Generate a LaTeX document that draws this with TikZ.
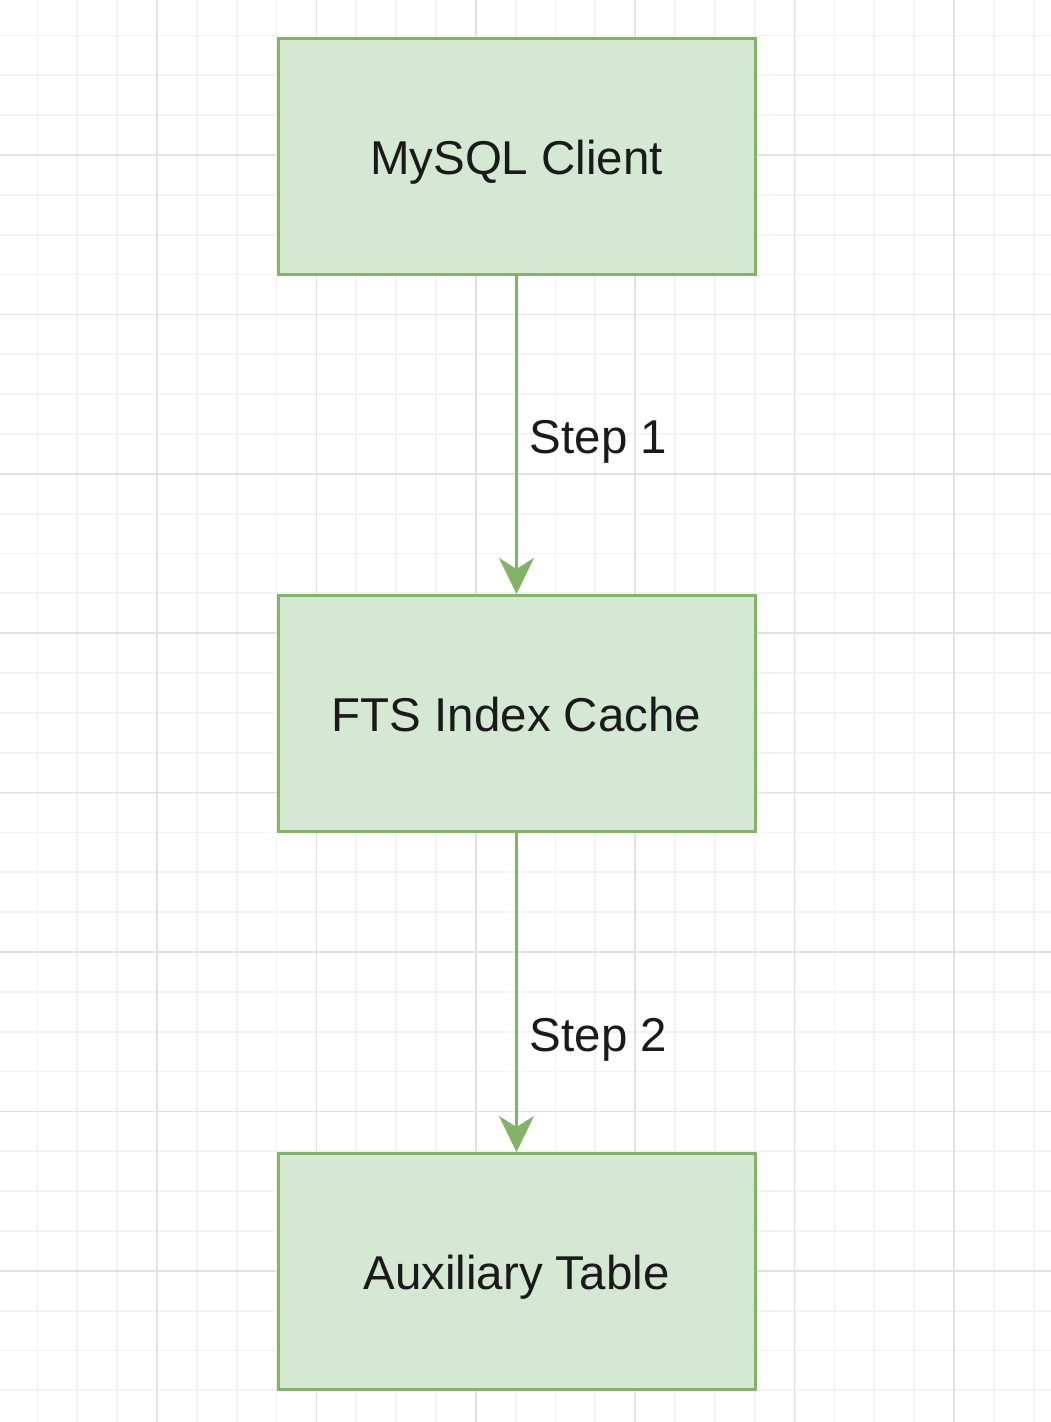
\documentclass[tikz,border=0pt]{standalone}
\usepackage{fontspec}
\setmainfont{Liberation Sans}
\usetikzlibrary{arrows.meta}
\definecolor{boxfill}{HTML}{D5E8D4}
\definecolor{boxline}{HTML}{82B366}
\definecolor{gridminor}{HTML}{F3F3F3}
\definecolor{gridmajor}{HTML}{E2E2E2}
\definecolor{txt}{HTML}{1A1A1A}
\tikzset{
  stepbox/.style={draw=boxline, fill=boxfill, line width=3pt, minimum width=477pt, minimum height=236pt, inner sep=0pt, text=txt, font=\fontsize{47.5}{57}\selectfont, text height=36.5pt, text depth=0pt},
  flow/.style={draw=boxline, line width=3pt, -{Stealth[length=36pt,width=35pt,inset=11pt]}},
  steplabel/.style={anchor=west, inner sep=0pt, text=txt, font=\fontsize{47.5}{57}\selectfont, text height=34.5pt, text depth=0pt}
}
\begin{document}
\begin{tikzpicture}[x=1pt,y=-1pt]
\useasboundingbox (0,0) rectangle (1051,1422);
\fill[white] (0,0) rectangle (1051,1422);
\foreach \i in {0,...,27} {
  \draw[gridminor, line width=1.8pt] ({-2.4+\i*39.85},0) -- ({-2.4+\i*39.85},1422);
}
\foreach \j in {0,...,36} {
  \draw[gridminor, line width=1.8pt] (0,{-4.4+\j*39.85}) -- (1051,{-4.4+\j*39.85});
}
\foreach \i in {0,...,7} {
  \draw[gridmajor, line width=1.6pt] ({-2.4+\i*159.4},0) -- ({-2.4+\i*159.4},1422);
}
\foreach \j in {0,...,9} {
  \draw[gridmajor, line width=1.6pt] (0,{-4.4+\j*159.4}) -- (1051,{-4.4+\j*159.4});
}
\node[stepbox] (client) at (516.5,156) {MySQL Client};
\node[stepbox] (cache) at (516.5,713.5) {FTS Index Cache};
\node[stepbox] (aux) at (516.5,1271.5) {Auxiliary Table};
\draw[flow] (client.south) -- (cache.north);
\draw[flow] (cache.south) -- (aux.north);
\node[steplabel] (s1) at (529.5,436) {Step 1};
\node[steplabel] (s2) at (529.5,1034) {Step 2};
\end{tikzpicture}
\end{document}
